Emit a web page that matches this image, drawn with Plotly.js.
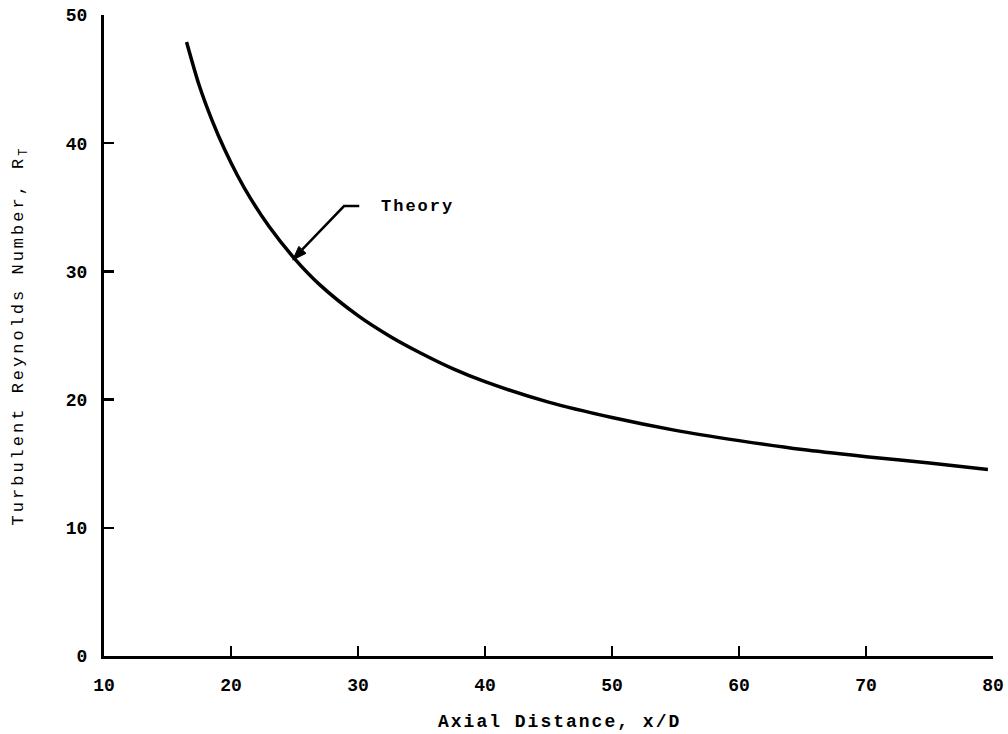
<!DOCTYPE html>
<html>
<head>
<meta charset="utf-8">
<script src="https://cdn.plot.ly/plotly-3.0.1.min.js"></script>
<style>
html,body{margin:0;padding:0;background:#fff;}
#chart{width:1008px;height:734px;}
#chart .ytitle{letter-spacing:3px;}
#chart .annotation-text{letter-spacing:2px;}
</style>
</head>
<body>
<div id="chart"></div>
<script>
// Theory curve: axial distance x/D vs turbulent Reynolds number R_T
const axialDistance = [16.5, 17.5, 18.5, 19.5, 20.5, 21.5, 23, 25, 27, 30, 32.5, 35, 37.5, 40, 45, 50, 55, 60, 65, 70, 75, 79.6];
const reynoldsT     = [47.9, 44.5, 41.8, 39.5, 37.5, 35.75, 33.5, 31.0, 28.95, 26.55, 24.95, 23.6, 22.4, 21.4, 19.8, 18.6, 17.6, 16.8, 16.1, 15.55, 15.05, 14.55];
const xTicks = [10, 20, 30, 40, 50, 60, 70, 80];
const yTicks = [0, 10, 20, 30, 40, 50];
const seriesLabel = "Theory";
const xTitle = "Axial Distance, x/D";
const yTitle = "Turbulent Reynolds Number, R<sub>T</sub>";

const fam = "Courier New, Liberation Mono, DejaVu Sans Mono, monospace";

const trace = {
  x: axialDistance, y: reynoldsT, type: "scatter", mode: "lines",
  line: {color: "#000", width: 3.5, shape: "spline", smoothing: 0.8},
  name: seriesLabel, showlegend: false, hoverinfo: "skip"
};

const layout = {
  width: 1008, height: 734,
  margin: {l: 104, r: 15, t: 15, b: 78},
  paper_bgcolor: "#fff", plot_bgcolor: "#fff",
  font: {family: fam, color: "#000"},
  showlegend: false,
  xaxis: {
    range: [10, 80], tickvals: xTicks, ticktext: xTicks.map(String),
    showgrid: false, zeroline: false, showline: true, linecolor: "#000", linewidth: 3,
    ticks: "inside", ticklen: 10, tickwidth: 2.5, tickcolor: "#000",
    ticklabelstandoff: 10,
    tickfont: {family: fam, size: 18, color: "#000", weight: "bold"}
  },
  yaxis: {
    range: [0, 50], tickvals: yTicks, ticktext: yTicks.map(String),
    showgrid: false, zeroline: false, showline: true, linecolor: "#000", linewidth: 3,
    ticks: "inside", ticklen: 10, tickwidth: 2.5, tickcolor: "#000",
    ticklabelstandoff: 10,
    tickfont: {family: fam, size: 18, color: "#000", weight: "bold"},
    title: {text: yTitle, standoff: 38,
            font: {family: fam, size: 17, color: "#000"}}
  },
  shapes: [
    {type: "path", xref: "x", yref: "y", path: "M 30.1 35.1 L 28.9 35.1 L 25.6 31.7",
     line: {color: "#000", width: 2.5}},
    {type: "path", xref: "x", yref: "y", path: "M 24.86 30.89 L 25.91 31.41 L 25.34 31.95 Z",
     fillcolor: "#000", line: {color: "#000", width: 1}}
  ],
  annotations: [
    {x: 32.1, y: 35.1, xref: "x", yref: "y", text: seriesLabel, showarrow: false,
     xanchor: "left", yanchor: "middle",
     font: {family: fam, size: 17, color: "#000", weight: "bold"}},
    {x: 0.512, y: -0.103, xref: "paper", yref: "paper", text: xTitle, showarrow: false,
     xanchor: "center", yanchor: "middle",
     font: {family: fam, size: 18, color: "#000", weight: "bold"}}
  ]
};

Plotly.newPlot("chart", [trace], layout, {staticPlot: true, displayModeBar: false});
</script>
</body>
</html>
